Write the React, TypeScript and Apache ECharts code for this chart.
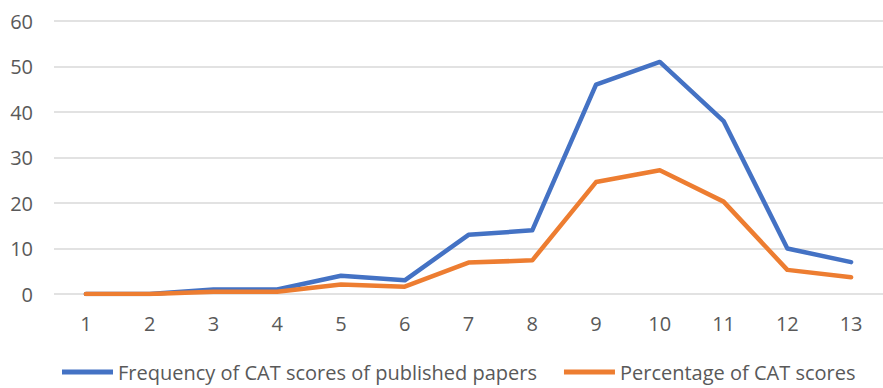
import React, { useEffect, useRef } from "react";
import * as echarts from "echarts";

const categories = ["1", "2", "3", "4", "5", "6", "7", "8", "9", "10", "11", "12", "13"];
const frequency = [0, 0, 1, 1, 4, 3, 13, 14, 46, 51, 38, 10, 7];
const percentage = [0, 0, 0.5, 0.5, 2.1, 1.6, 6.9, 7.4, 24.6, 27.2, 20.3, 5.3, 3.7];
const seriesNames = ["Frequency of CAT scores of published papers", "Percentage of CAT scores"];

const FONT = "'Open Sans', sans-serif";

export default function App() {
  const ref = useRef<HTMLDivElement>(null);
  useEffect(() => {
    if (!ref.current) return;
    const chart = echarts.init(ref.current, undefined, { renderer: "svg" });
    chart.setOption({
      animation: false,
      backgroundColor: "#ffffff",
      grid: { left: 54, top: 21, width: 840, height: 273, containLabel: false },
      legend: {
        top: 362,
        left: 62,
        padding: 0,
        icon: "rect",
        itemWidth: 51,
        itemHeight: 5,
        itemGap: 27,
        textStyle: { color: "#595959", fontSize: 20, fontFamily: FONT },
        data: seriesNames,
      },
      xAxis: {
        type: "category",
        data: categories,
        boundaryGap: true,
        axisLine: { show: false },
        axisTick: { show: false },
        axisLabel: { color: "#595959", fontSize: 20, fontFamily: FONT, margin: 19 },
      },
      yAxis: {
        type: "value",
        min: 0,
        max: 60,
        interval: 10,
        axisLine: { show: false },
        axisTick: { show: false },
        axisLabel: { color: "#595959", fontSize: 20, fontFamily: FONT, margin: 21 },
        splitLine: { lineStyle: { color: "#D9D9D9", width: 1.5 } },
      },
      series: [
        {
          name: seriesNames[0],
          type: "line",
          data: frequency,
          symbol: "none",
          color: "#4472C4",
          lineStyle: { width: 4.5, cap: "round", join: "round" },
        },
        {
          name: seriesNames[1],
          type: "line",
          data: percentage,
          symbol: "none",
          color: "#ED7D31",
          lineStyle: { width: 4.5, cap: "round", join: "round" },
        },
      ],
    });
    return () => chart.dispose();
  }, []);
  return (
    <div
      ref={ref}
      style={{ position: "fixed", left: 0, top: 0, width: 883, height: 388, background: "#fff" }}
    />
  );
}
